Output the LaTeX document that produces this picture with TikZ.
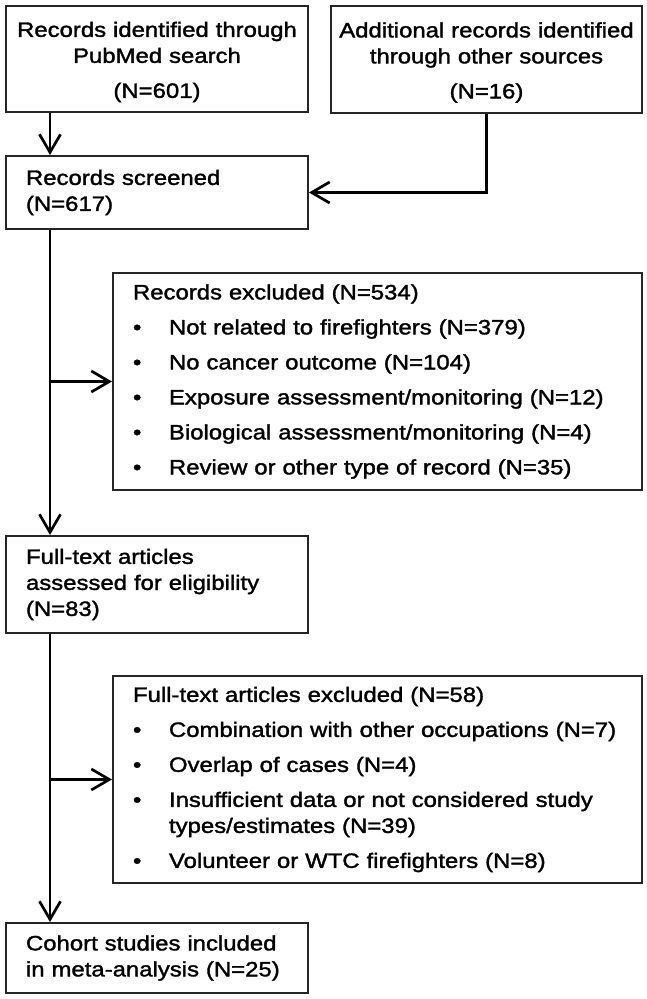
\documentclass[tikz,border=0pt]{standalone}
\usepackage{fontspec}
\setmainfont[FakeStretch=1.15,FakeBold=1.6]{Liberation Sans}
\usetikzlibrary{arrows.meta}
\newcommand{\bul}{\makebox[36pt][l]{\textbullet}}
\begin{document}
\begin{tikzpicture}[x=1pt,y=-1pt,
  box/.style={draw=black!85,line width=2pt,anchor=north west,inner ysep=0pt,
    font=\fontsize{20.8}{26}\selectfont},
  cbox/.style={box,inner xsep=4pt,align=center},
  lbox/.style={box,inner xsep=20pt,align=left},
  conn/.style={line width=2.7pt,draw=black},
  arr/.style={conn,-{Straight Barb[length=18pt,width=21pt]}}]
\useasboundingbox (0,0) rectangle (646,999);
\coordinate (spine) at (50,0);
\node[cbox,minimum width=302pt,minimum height=106pt,text width=294pt] (b1) at (5,5)
  {\rule{0pt}{21pt}Records identified through\\PubMed search\\[9pt](N=601)};
\node[cbox,minimum width=311pt,minimum height=107pt,text width=303pt] (b2) at (330,5)
  {\rule{0pt}{21pt}Additional records identified\\through other sources\\[9pt](N=16)};
\node[lbox,minimum width=302pt,minimum height=73pt,text width=262pt] (scr) at (5,155)
  {Records screened\\(N=617)};
\node[lbox,minimum width=529pt,minimum height=217pt,text width=489pt] (ex1) at (112,272)
  {Records excluded (N=534)\\[9pt]
   \bul Not related to firefighters (N=379)\\[9pt]
   \bul No cancer outcome (N=104)\\[9pt]
   \bul Exposure assessment/monitoring (N=12)\\[9pt]
   \bul Biological assessment/monitoring (N=4)\\[9pt]
   \bul Review or other type of record (N=35)};
\node[lbox,minimum width=302pt,minimum height=97pt,text width=262pt] (ft) at (5,535)
  {Full-text articles\\assessed for eligibility\\(N=83)};
\node[lbox,minimum width=529pt,minimum height=207pt,text width=489pt] (ex2) at (112,675)
  {Full-text articles excluded (N=58)\\[9pt]
   \bul Combination with other occupations (N=7)\\[9pt]
   \bul Overlap of cases (N=4)\\[9pt]
   \bul Insufficient data or not considered study\\
   \hspace*{36pt}types/estimates (N=39)\\[9pt]
   \bul Volunteer or WTC firefighters (N=8)};
\node[lbox,minimum width=302pt,minimum height=70pt,text width=262pt] (co) at (5,922)
  {Cohort studies included\\in meta-analysis (N=25)};
\draw[arr] (b1.south -| spine) -- (scr.north -| spine);
\draw[arr] (b2.south) |- (scr.east);
\draw[arr] (scr.south -| spine) -- (ft.north -| spine);
\draw[arr] (spine |- ex1.west) -- (ex1.west);
\draw[arr] (ft.south -| spine) -- (co.north -| spine);
\draw[arr] (spine |- ex2.west) -- (ex2.west);
\end{tikzpicture}
\end{document}
